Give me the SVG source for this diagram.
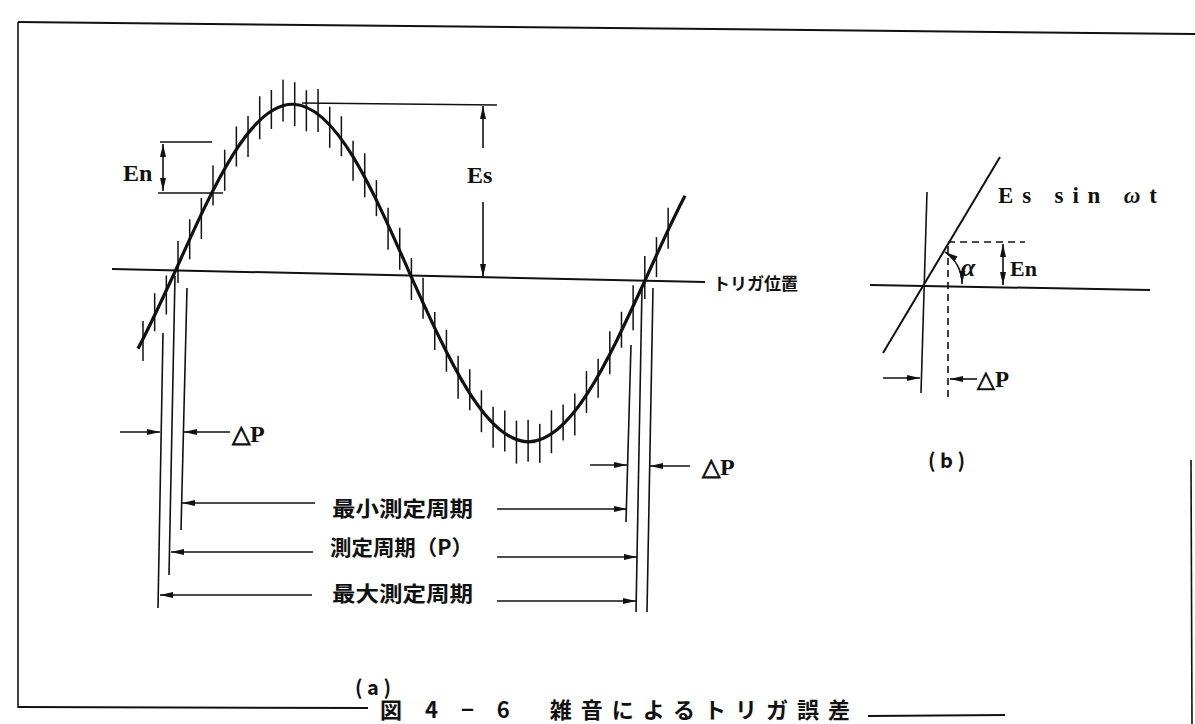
<svg xmlns="http://www.w3.org/2000/svg" width="1195" height="724" viewBox="0 0 1195 724">
<style>
.ln{stroke:#111;fill:none;stroke-width:2}
.th{stroke:#111;fill:none;stroke-width:1.6}
.wave{stroke:#111;fill:none;stroke-width:3.2}
.bar{stroke:#111;stroke-width:1.5}
.dash{stroke:#111;fill:none;stroke-width:1.6;stroke-dasharray:7 5}
.ar{marker-end:url(#ah)}
.ar2{marker-start:url(#ah);marker-end:url(#ah)}
.lat{font-family:"Liberation Serif",serif;font-weight:bold;fill:#111}
.jp{font-family:"Noto Sans CJK JP",sans-serif;font-weight:bold;fill:#111}
</style>
<defs>
<marker id="ah" markerUnits="userSpaceOnUse" markerWidth="14" markerHeight="7" refX="13" refY="3.5" orient="auto-start-reverse">
<path d="M0,0.5 L13,3.5 L0,6.5 z" fill="#111"/>
</marker>
</defs>
<rect width="1195" height="724" fill="#fff"/>
<g id="frame">
<path class="ln" d="M18,22 L1195,34"/>
<path class="th" d="M18,22 L18,708"/>
<path class="ln" d="M18,707 L368,708"/>
<path class="ln" d="M868,716 L1005,715"/>
<path class="th" d="M1191,460 L1192,724"/>
</g>
<g id="trigger-line">
<path class="ln" d="M112,269 L705,282"/>
<text class="jp" x="713" y="290" font-size="17">トリガ位置</text>
</g>
<g id="signal" transform="translate(176,269.5) skewY(1.35)">
<path class="wave" d="M-38,80 C-25.33,55.74 -12.67,27.83 0,0 C38.24,-86.07 74.82,-168 117.25,-168 C159.68,-168 196.26,-86.07 234.5,0 C272.74,84 309.32,164 351.75,164 C394.18,164 430.76,84 469,0 C482.33,-30 495.67,-59.980 509,-85.8"/>
<g id="noise">
<line class="bar" x1="-33" y1="52.2" x2="-33" y2="92.2"/>
<line class="bar" x1="-21.33" y1="24.2" x2="-21.33" y2="62.2"/>
<line class="bar" x1="-9.66" y1="6.2" x2="-9.66" y2="45.2"/>
<line class="bar" x1="2.01" y1="-28.5" x2="2.01" y2="13.5"/>
<line class="bar" x1="13.68" y1="-50.6" x2="13.68" y2="-10.6"/>
<line class="bar" x1="25.35" y1="-72" x2="25.35" y2="-31"/>
<line class="bar" x1="37.02" y1="-105" x2="37.02" y2="-65"/>
<line class="bar" x1="48.69" y1="-121" x2="48.69" y2="-80"/>
<line class="bar" x1="60.36" y1="-144.5" x2="60.36" y2="-104.5"/>
<line class="bar" x1="72.03" y1="-155.1" x2="72.03" y2="-114.1"/>
<line class="bar" x1="83.7" y1="-175.3" x2="83.7" y2="-132.3"/>
<line class="bar" x1="95.37" y1="-181.8" x2="95.37" y2="-142.8"/>
<line class="bar" x1="107.04" y1="-192.4" x2="107.04" y2="-150.4"/>
<line class="bar" x1="118.71" y1="-190" x2="118.71" y2="-146"/>
<line class="bar" x1="130.38" y1="-182.4" x2="130.38" y2="-141.4"/>
<line class="bar" x1="142.05" y1="-183.8" x2="142.05" y2="-140.8"/>
<line class="bar" x1="153.72" y1="-166.3" x2="153.72" y2="-125.3"/>
<line class="bar" x1="165.39" y1="-157.2" x2="165.39" y2="-117.2"/>
<line class="bar" x1="177.06" y1="-132.9" x2="177.06" y2="-92.9"/>
<line class="bar" x1="188.73" y1="-120.6" x2="188.73" y2="-76.6"/>
<line class="bar" x1="200.4" y1="-94.1" x2="200.4" y2="-58.1"/>
<line class="bar" x1="212.07" y1="-66.7" x2="212.07" y2="-24.7"/>
<line class="bar" x1="223.74" y1="-47.1" x2="223.74" y2="-5.1"/>
<line class="bar" x1="235.41" y1="-17" x2="235.41" y2="25"/>
<line class="bar" x1="247.08" y1="2.5" x2="247.08" y2="43.5"/>
<line class="bar" x1="258.75" y1="36.3" x2="258.75" y2="74.3"/>
<line class="bar" x1="270.42" y1="53.9" x2="270.42" y2="95.9"/>
<line class="bar" x1="282.09" y1="79.6" x2="282.09" y2="122.6"/>
<line class="bar" x1="293.76" y1="92.9" x2="293.76" y2="133.9"/>
<line class="bar" x1="305.43" y1="113.5" x2="305.43" y2="155.5"/>
<line class="bar" x1="317.1" y1="129.7" x2="317.1" y2="170.7"/>
<line class="bar" x1="328.77" y1="133.3" x2="328.77" y2="174.3"/>
<line class="bar" x1="340.44" y1="143.1" x2="340.44" y2="186.1"/>
<line class="bar" x1="352.11" y1="142" x2="352.11" y2="184"/>
<line class="bar" x1="363.78" y1="145.8" x2="363.78" y2="184.8"/>
<line class="bar" x1="375.45" y1="131.8" x2="375.45" y2="174.8"/>
<line class="bar" x1="387.12" y1="125.9" x2="387.12" y2="161.9"/>
<line class="bar" x1="398.79" y1="114.5" x2="398.79" y2="156.5"/>
<line class="bar" x1="410.46" y1="91.8" x2="410.46" y2="133.8"/>
<line class="bar" x1="422.13" y1="79.3" x2="422.13" y2="118.3"/>
<line class="bar" x1="433.8" y1="51.5" x2="433.8" y2="94.5"/>
<line class="bar" x1="445.47" y1="31.8" x2="445.47" y2="67.8"/>
<line class="bar" x1="457.14" y1="4.9" x2="457.14" y2="49.9"/>
<line class="bar" x1="468.81" y1="-24.6" x2="468.81" y2="18.4"/>
<line class="bar" x1="480.48" y1="-43.7" x2="480.48" y2="-3.7"/>
<line class="bar" x1="492.15" y1="-73.3" x2="492.15" y2="-32.3"/>
</g>
</g>
<g id="guides-a">
<path class="th" d="M163,333 L158,608"/>
<path class="th" d="M175,276 L169,575"/>
<path class="th" d="M187,288 L181,530"/>
<path class="th" d="M631,345 L626,522"/>
<path class="th" d="M642,287 L636,612"/>
<path class="th" d="M653,288 L647,612"/>
<path class="th" d="M160,142 L212,142"/>
<path class="th" d="M158,193 L223,193"/>
<path class="th" d="M302,103 L497,105"/>
</g>
<g id="connectors">
<path class="th ar2" d="M163,144 L163,191"/>
<path class="th ar" d="M483,148 L483,106"/>
<path class="th ar" d="M483,202 L483,277"/>
<path class="th ar" d="M120,432 L160,432"/>
<path class="th ar" d="M230,432 L184,432"/>
<path class="th ar" d="M590,465 L627,465"/>
<path class="th ar" d="M690,466 L650,466"/>
<path class="th ar" d="M315,503 L182,503"/>
<path class="th ar" d="M497,509 L627,509"/>
<path class="th ar" d="M313,552 L171,552"/>
<path class="th ar" d="M497,557 L637,557"/>
<path class="th ar" d="M312,595 L160,595"/>
<path class="th ar" d="M497,601 L636,601"/>
</g>
<g id="labels-a">
<text class="lat" x="123" y="181" font-size="24">En</text>
<text class="lat" x="467" y="183" font-size="24">Es</text>
<text class="lat" x="232" y="442" font-size="24">△P</text>
<text class="lat" x="702" y="475" font-size="24">△P</text>
<text class="jp" x="332" y="516" font-size="21" textLength="141" lengthAdjust="spacingAndGlyphs">最小測定周期</text>
<text class="jp" x="330" y="555" font-size="21" textLength="143" lengthAdjust="spacingAndGlyphs">測定周期（P）</text>
<text class="jp" x="332" y="601" font-size="21" textLength="141" lengthAdjust="spacingAndGlyphs">最大測定周期</text>
<text class="jp" x="355" y="695" font-size="20" font-weight="normal">( a )</text>
</g>
<g id="diagram-b">
<path class="ln" d="M870,285 L1150,290"/>
<path class="th" d="M927,192 L921,393"/>
<path class="ln" stroke-width="2.6" d="M883,353 L1000,157"/>
<path class="dash" d="M948,242 L1025,242"/>
<path class="dash" d="M948,246 L948,402"/>
<path class="th ar2" d="M1003,244 L1003,285"/>
<path class="th ar2" d="M945,252 A37 37 0 0 1 962,284"/>
<path class="th ar" d="M883,378 L920,378"/>
<path class="th ar" d="M977,379 L950,379"/>
<text class="lat" x="998" y="203" font-size="23" textLength="159">Es sin <tspan font-style="italic">ω</tspan>t</text>
<text class="lat" x="961" y="276" font-size="26" font-style="italic" font-weight="normal">α</text>
<text class="lat" x="1010" y="276" font-size="22" font-weight="normal">En</text>
<text class="lat" x="977" y="387" font-size="23">△P</text>
<text class="jp" x="928" y="468" font-size="20" font-weight="normal">( b )</text>
</g>
<g id="caption">
<text class="jp" x="380" y="718" font-size="22" font-weight="normal" textLength="470" lengthAdjust="spacing">図 4 − 6　雑音によるトリガ誤差</text>
</g>
</svg>
